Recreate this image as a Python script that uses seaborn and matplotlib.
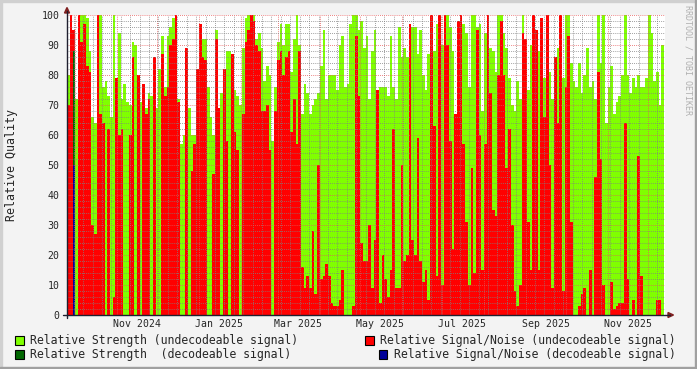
import datetime as dt
import numpy as np
import pandas as pd
import matplotlib
matplotlib.use("Agg")
import matplotlib.pyplot as plt
import matplotlib.dates as mdates
from matplotlib.ticker import MultipleLocator, NullFormatter
from matplotlib.patches import Rectangle, Polygon
from matplotlib.lines import Line2D
import seaborn as sns

# one value per 2-day step, starting 2024-09-25
start_date = dt.datetime(2024, 9, 25)
step_days = 2

# Relative Strength (undecodeable signal)
strength_1 = [80, 100, 88, 72, 100, 100, 100, 99, 88, 66, 64, 100, 100, 76, 78, 73, 66, 100, 73, 94,
              72, 77, 71, 70, 91, 90, 73, 71, 75, 69, 74, 73, 76, 69, 82, 93, 76]
strength_2 = [93, 96, 99, 100, 72, 57, 60, 89, 69, 60, 60, 82, 97, 92, 92, 76, 66, 60, 95, 62,
              74, 74, 88, 88, 72, 75, 73, 70, 89, 99, 100, 100, 100, 92, 94, 89, 78]
strength_3 = [83, 80, 58, 76, 91, 97, 90, 97, 97, 81, 92, 100, 90, 67, 77, 74, 67, 70, 72, 74,
              83, 95, 72, 80, 80, 80, 75, 90, 93, 76, 77, 97, 100, 100, 95, 98, 89]
strength_4 = [93, 72, 88, 95, 68, 76, 76, 76, 73, 93, 76, 72, 96, 86, 89, 86, 93, 96, 96, 87,
              95, 80, 75, 87, 99, 88, 97, 100, 90, 90, 100, 96, 88, 67, 98, 100, 97]
strength_5 = [94, 76, 100, 100, 96, 97, 68, 94, 100, 89, 88, 81, 100, 100, 94, 89, 79, 70, 68, 78,
              72, 100, 92, 75, 90, 100, 95, 88, 99, 79, 100, 81, 72, 86, 89, 100, 79]
strength_6 = [100, 100, 84, 78, 76, 84, 74, 80, 89, 76, 78, 72, 100, 84, 100, 64, 76, 83, 67, 71,
              73, 80, 100, 80, 74, 79, 76, 80, 76, 76, 79, 100, 94, 78, 81, 70, 90]

# Relative Signal/Noise (undecodeable signal)
snr_1 = [70, 100, 95, 0, 100, 91, 97, 83, 81, 30, 27, 100, 67, 64, 0, 62, 0, 6, 79, 60,
         62, 0, 0, 60, 86, 0, 80, 0, 77, 67, 72, 0, 86, 0, 0, 87, 73]
snr_2 = [76, 90, 92, 100, 71, 0, 0, 89, 0, 48, 57, 82, 97, 86, 85, 0, 0, 47, 92, 69,
         0, 82, 58, 0, 87, 61, 55, 0, 67, 91, 95, 100, 98, 90, 88, 68, 68]
snr_3 = [70, 55, 0, 68, 85, 88, 80, 86, 88, 61, 72, 57, 88, 16, 9, 13, 9, 28, 7, 50,
         12, 13, 17, 13, 4, 3, 3, 5, 15, 0, 0, 0, 3, 93, 73, 24, 18]
snr_4 = [18, 30, 9, 25, 75, 4, 20, 12, 6, 15, 62, 9, 9, 50, 18, 20, 97, 25, 20, 59,
         18, 11, 15, 5, 100, 63, 13, 100, 10, 100, 90, 58, 22, 67, 98, 100, 57]
snr_5 = [31, 10, 49, 14, 95, 60, 15, 57, 100, 74, 35, 33, 80, 98, 80, 49, 62, 30, 8, 3,
         10, 94, 92, 31, 15, 100, 95, 15, 99, 66, 100, 50, 9, 86, 64, 100, 8]
snr_6 = [76, 93, 31, 0, 0, 3, 7, 9, 0, 15, 0, 46, 81, 52, 10, 0, 0, 11, 2, 3,
         4, 4, 64, 12, 0, 5, 0, 53, 13, 0, 0, 0, 0, 0, 5, 5, 0]

# decodeable signal (only one step has any)
decode_steps = [2]
decode_strength = [88]
decode_snr = [50]

tick_labels = ["Nov 2024", "Jan 2025", "Mar 2025", "May 2025", "Jul 2025", "Sep 2025", "Nov 2025"]
tick_dates = ["2024-11-16", "2025-01-16", "2025-03-16", "2025-05-16", "2025-07-16", "2025-09-16", "2025-11-16"]

legend_labels = ["Relative Strength (undecodeable signal)", "Relative Signal/Noise (undecodeable signal)",
                 "Relative Strength  (decodeable signal)", "Relative Signal/Noise (decodeable signal)"]

strength = strength_1 + strength_2 + strength_3 + strength_4 + strength_5 + strength_6
snr = snr_1 + snr_2 + snr_3 + snr_4 + snr_5 + snr_6
n = len(strength)
base = mdates.date2num(start_date)
days = base + step_days * np.arange(n) + step_days / 2

dec_strength = np.zeros(n)
dec_strength[decode_steps] = decode_strength
dec_snr = np.zeros(n)
dec_snr[decode_steps] = decode_snr

df = pd.DataFrame({"day": days, "strength": strength, "snr": snr,
                   "dec_strength": dec_strength, "dec_snr": dec_snr})

GREEN, RED, DGREEN, BLUE = "#80FF00", "#FF0000", "#006600", "#000099"

sns.set_style("white")
plt.rcParams["font.family"] = ["DejaVu Sans Mono"]

W, H = 697, 369
fig = plt.figure(figsize=(W / 100, H / 100), dpi=100, facecolor="#F3F3F3")
ax = fig.add_axes([67 / W, 1 - 315 / H, 598 / W, 300 / H])
ax.set_facecolor("white")

for col, colour, wd in [("strength", GREEN, 1), ("snr", RED, 1),
                        ("dec_strength", DGREEN, 0.6), ("dec_snr", BLUE, 0.6)]:
    sns.barplot(data=df, x="day", y=col, native_scale=True, orient="x", width=wd,
                color=colour, saturation=1, errorbar=None, linewidth=0,
                antialiased=False, ax=ax)

ax.set_xlim(base, base + 598 / 1.345)
ax.set_ylim(0, 100)
ax.set_xlabel("")
ax.set_ylabel("")
for s in ax.spines.values():
    s.set_visible(False)

# grid like rrdtool: weeks / months, 2 / 10 units
ax.xaxis.set_major_locator(mdates.MonthLocator())
ax.xaxis.set_minor_locator(mdates.WeekdayLocator(byweekday=mdates.MO))
ax.xaxis.set_major_formatter(NullFormatter())
ax.yaxis.set_major_locator(MultipleLocator(10))
ax.yaxis.set_minor_locator(MultipleLocator(2))
ax.set_axisbelow(False)
ax.grid(which="major", color=(0.9, 0.35, 0.35, 0.4), linestyle=(0, (1, 1.5)), linewidth=0.6)
ax.grid(which="minor", color=(0.5, 0.5, 0.5, 0.22), linestyle=(0, (1, 1.5)), linewidth=0.6)
ax.tick_params(axis="x", which="major", length=3, direction="inout", color=(0.96, 0.45, 0.45), labelbottom=False)
ax.tick_params(axis="x", which="minor", length=0)
ax.tick_params(axis="y", which="major", length=3, direction="inout", color=(0.96, 0.45, 0.45),
               labelsize=7.1, pad=4)
ax.tick_params(axis="y", which="minor", length=0)

for lab, d in zip(tick_labels, tick_dates):
    ax.text(mdates.date2num(pd.Timestamp(d)), -9 / 300, lab, transform=ax.get_xaxis_transform(),
            ha="center", va="center", fontsize=7.1)


def fx(x):
    return x / W


def fy(y):
    return 1 - y / H


# axes + arrows
fig.add_artist(Line2D([fx(63), fx(670)], [fy(315), fy(315)], color="#1F1F2F", linewidth=1))
fig.add_artist(Line2D([fx(67), fx(67)], [fy(318), fy(11)], color="#1F1F2F", linewidth=1))
fig.add_artist(Polygon([(fx(668), fy(312.5)), (fx(673.5), fy(315)), (fx(668), fy(317.5))],
                       closed=True, color="#7F1F1F", transform=fig.transFigure))
fig.add_artist(Polygon([(fx(64.5), fy(13)), (fx(67), fy(7.5)), (fx(69.5), fy(13))],
                       closed=True, color="#7F1F1F", transform=fig.transFigure))

fig.text(fx(12), fy(165), "Relative Quality", rotation=90, ha="center", va="center", fontsize=8.4)
fig.text(fx(688), fy(60), "RRDTOOL / TOBI OETIKER", rotation=270, ha="center", va="center",
         fontsize=6, color="#B0B0B0")

# legend
legend_spots = [(15, 336, 30), (365, 336, 380), (15, 350, 30), (379, 350, 394)]
for (sx, sy, tx), lab, colour in zip(legend_spots, legend_labels, [GREEN, RED, DGREEN, BLUE]):
    fig.add_artist(Rectangle((fx(sx), fy(sy + 9)), 8.5 / W, 9 / H, facecolor=colour,
                             edgecolor="black", linewidth=0.8, transform=fig.transFigure))
    fig.text(fx(tx), fy(sy + 4.8), lab, ha="left", va="center", fontsize=8.3)

# frame shading
fig.add_artist(Rectangle((0, fy(2)), 1, 2 / H, color="#D0D0D0", transform=fig.transFigure))
fig.add_artist(Rectangle((0, 0), 2 / W, 1, color="#D0D0D0", transform=fig.transFigure))
fig.add_artist(Rectangle((fx(W - 2.5), 0), 2.5 / W, 1, color="#A0A0A0", transform=fig.transFigure))
fig.add_artist(Rectangle((0, 0), 1, 2.5 / H, color="#A0A0A0", transform=fig.transFigure))

fig.savefig("out.png", dpi=100, facecolor=fig.get_facecolor())
